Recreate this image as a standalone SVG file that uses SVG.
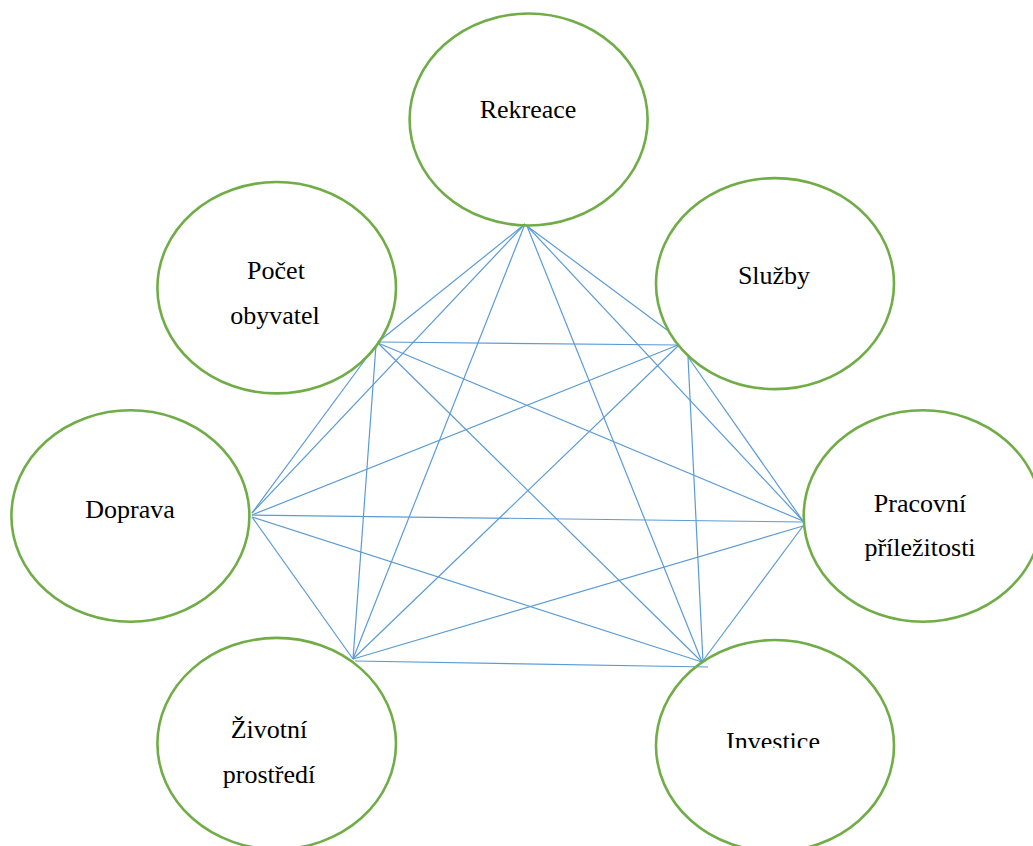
<svg xmlns="http://www.w3.org/2000/svg" width="1033" height="846" viewBox="0 0 1033 846">
<style>
.n{fill:none;stroke:#70AD47;stroke-width:2.6}
.t{font-family:'Liberation Serif',Tinos,'Times New Roman','DejaVu Serif',serif;font-size:26px;fill:#000;text-anchor:middle}
.c line{stroke:#5B9BD5;stroke-width:1.2}
</style>
<defs>
<clipPath id="clipInv"><rect x="650" y="700" width="250" height="48"/></clipPath>
</defs>
<rect width="1033" height="846" fill="#fff"/>
<g class="c" id="connectors">
<line x1="525" y1="224" x2="378" y2="342"/>
<line x1="525" y1="224" x2="252" y2="513"/>
<line x1="525" y1="224" x2="353" y2="659"/>
<line x1="527" y1="226" x2="702" y2="662"/>
<line x1="527" y1="226" x2="803" y2="521"/>
<line x1="527" y1="226" x2="667" y2="330"/>
<line x1="380" y1="342" x2="678" y2="345"/>
<line x1="378" y1="343" x2="803" y2="521"/>
<line x1="378" y1="343" x2="702" y2="662"/>
<line x1="376" y1="345" x2="353" y2="659"/>
<line x1="376" y1="345" x2="252" y2="513"/>
<line x1="678" y1="345" x2="252" y2="515"/>
<line x1="678" y1="346" x2="353" y2="659"/>
<line x1="688" y1="357" x2="703" y2="662"/>
<line x1="688" y1="357" x2="803" y2="521"/>
<line x1="252" y1="515" x2="803" y2="522"/>
<line x1="252" y1="517" x2="702" y2="662"/>
<line x1="252" y1="517" x2="353" y2="659"/>
<line x1="803" y1="526" x2="353" y2="659"/>
<line x1="803" y1="526" x2="702" y2="662"/>
<line x1="355" y1="661" x2="708" y2="667"/>
</g>
<g id="rekreace">
<ellipse class="n" cx="528.6" cy="119.5" rx="119" ry="106"/>
<text class="t" x="528" y="118" font-family="Liberation Serif">Rekreace</text>
</g>
<g id="sluzby">
<ellipse class="n" cx="775" cy="283.6" rx="119" ry="105.5"/>
<text class="t" x="774" y="284" font-family="Liberation Serif">Služby</text>
</g>
<g id="pracovni">
<ellipse class="n" cx="922.7" cy="516" rx="119" ry="105.7"/>
<text class="t" x="920" y="512" font-family="Liberation Serif">Pracovní</text>
<text class="t" x="920" y="556" font-family="Liberation Serif">příležitosti</text>
</g>
<g id="investice">
<ellipse class="n" cx="775" cy="745.7" rx="119" ry="105.7"/>
<text class="t" x="773" y="750" clip-path="url(#clipInv)" font-family="Liberation Serif">Investice</text>
</g>
<g id="zivotni">
<ellipse class="n" cx="276.7" cy="743.6" rx="119.3" ry="105.7"/>
<text class="t" x="269" y="738" font-family="Liberation Serif">Životní</text>
<text class="t" x="269" y="783" font-family="Liberation Serif">prostředí</text>
</g>
<g id="doprava">
<ellipse class="n" cx="130.4" cy="516" rx="119" ry="105.7"/>
<text class="t" x="130" y="518" font-family="Liberation Serif">Doprava</text>
</g>
<g id="pocet">
<ellipse class="n" cx="276.7" cy="287.7" rx="119.3" ry="105.7"/>
<text class="t" x="276" y="279" font-family="Liberation Serif">Počet</text>
<text class="t" x="275" y="324" font-family="Liberation Serif">obyvatel</text>
</g>
</svg>
